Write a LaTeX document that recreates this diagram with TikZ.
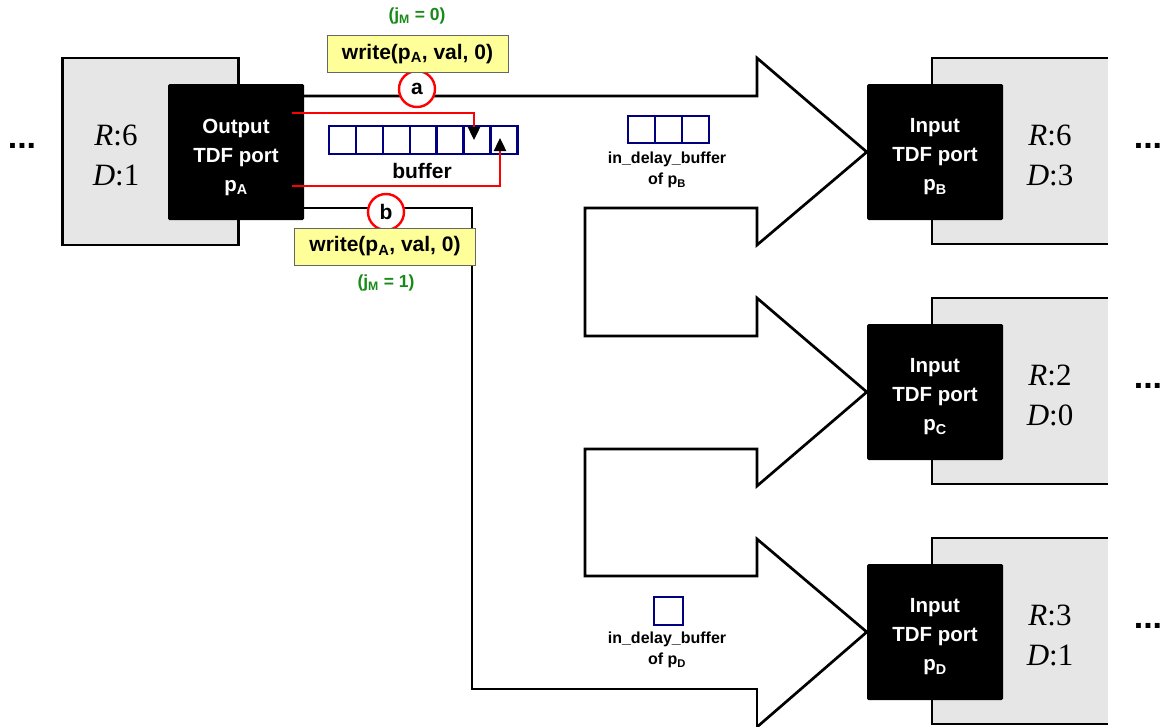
\documentclass[tikz,border=0pt]{standalone}
\usepackage{fontspec}
\setmainfont{Liberation Sans}
\newfontfamily\serifrd{Liberation Serif}
\usetikzlibrary{arrows.meta}
\definecolor{boxgray}{HTML}{E6E6E6}
\definecolor{bufblue}{HTML}{000080}
\definecolor{lblyellow}{HTML}{FFFF99}
\definecolor{grn}{HTML}{178A17}
\begin{document}
\begin{tikzpicture}[x=1pt,y=-1pt,
  port/.style={fill=black,rounded corners=1.5pt,minimum width=136,minimum height=136,
    text=white,align=center,inner sep=0pt,font=\fontsize{20.5}{29}\selectfont\bfseries},
  porttext/.style={text=white,align=center,inner sep=0pt,font=\fontsize{20.5}{29}\selectfont\bfseries},
  graybox/.style={fill=boxgray,draw=black,line width=2.3pt,minimum width=176,minimum height=187,inner sep=0pt},
  rdtext/.style={align=center,font=\serifrd\fontsize{31}{40}\selectfont},
  dots/.style={font=\fontsize{34}{36}\selectfont\bfseries},
  outline/.style={draw=black,line width=2.7pt,line join=miter},
  cell/.style={draw=bufblue,line width=2.4pt,minimum width=26.9,minimum height=28,inner sep=0pt},
  redline/.style={draw=red,line width=2.4pt,-{Triangle[length=13pt,width=12pt,color=black]}},
  marker/.style={circle,draw=red,fill=white,line width=2.4pt,minimum size=36,inner sep=0pt,font=\fontsize{21}{22}\selectfont\bfseries},
  callbox/.style={draw=black!60,line width=0.8pt,fill=lblyellow,minimum width=181,minimum height=37,inner sep=0pt,font=\fontsize{21}{22}\selectfont\bfseries},
  jlabel/.style={text=grn,font=\fontsize{17.5}{18}\selectfont\bfseries},
  smalllbl/.style={align=center,font=\fontsize{16}{21}\selectfont\bfseries},
  buflbl/.style={font=\fontsize{21}{22}\selectfont\bfseries}
]
\useasboundingbox (0,0) rectangle (1162,726);

% left module
\node[graybox] (gA) at (150.5,151.5) {};
\node[rdtext] (rdA) at (116,155) {\textit{R}:6\\\textit{D}:1};
\node[dots] (dotsA) at (22,146) {...};

% right modules (open on the right)
\foreach \n/\cy in {B/151,C/391,D/631}{
  \fill[boxgray] (932,\cy-93) rectangle (1108,\cy+93);
  \draw[line width=2.3pt] (1108,\cy-93) -- (932,\cy-93) -- (932,\cy+93) -- (1108,\cy+93);
}
\node[rdtext] (rdB) at (1050,155) {\textit{R}:6\\\textit{D}:3};
\node[rdtext] (rdC) at (1050,395) {\textit{R}:2\\\textit{D}:0};
\node[rdtext] (rdD) at (1050,635) {\textit{R}:3\\\textit{D}:1};
\node[dots] (dotsB) at (1148,146) {...};
\node[dots] (dotsC) at (1148,386) {...};
\node[dots] (dotsD) at (1148,626) {...};

% ports
\node[port] (pA) at (236,152) {};
\node[port] (pB) at (935,152) {};
\node[port] (pC) at (935,392) {};
\node[port] (pD) at (935,632) {};
\node[porttext] (tA) at ([yshift=-5pt]pA.center) {Output\\TDF port\\p\textsubscript{A}};
\node[porttext] (tB) at ([yshift=-5pt]pB.center) {Input\\TDF port\\p\textsubscript{B}};
\node[porttext] (tC) at ([yshift=-5pt]pC.center) {Input\\TDF port\\p\textsubscript{C}};
\node[porttext] (tD) at ([yshift=-5pt]pD.center) {Input\\TDF port\\p\textsubscript{D}};

% big outline of the signal fan-out
\draw[outline] (pA.east |- 0,96) -- (757,96) -- (757,58) -- (pB.west) -- (757,245) -- (757,208)
  -- (585,208) -- (585,336) -- (757,336) -- (757,298) -- (pC.west) -- (757,486) -- (757,449)
  -- (585,449) -- (585,576) -- (757,576) -- (757,539) -- (pD.west) -- (757,727);
\draw[outline] (757,740) -- (757,689) -- (472,689) -- (472,208) -- (pA.east |- 0,208);

% buffer
\foreach \i in {1,...,7}{
  \node[cell] (buf\i) at (329+26.9*\i-13.45,140) {};
}
\node[buflbl] (buflabel) at (422,171) {buffer};

% red write arrows
\coordinate (ra0) at (292,113);
\coordinate (ra1) at (474,140);
\coordinate (rb0) at (292,186);
\coordinate (rb1) at (500,138);
\draw[redline] (ra0) -| (ra1);
\draw[redline] (rb0) -| (rb1);

% markers a and b
\node[marker] (ma) at (417,89) {a};
\node[marker] (mb) at (386,212) {b};

% write calls
\node[callbox] (wa) at (417.5,54) {write(p\textsubscript{A}, val, 0)};
\node[callbox] (wb) at (385,246.5) {write(p\textsubscript{A}, val, 0)};
\node[jlabel] (ja) at (417,16) {(j\textsubscript{M} = 0)};
\node[jlabel] (jb) at (386,283) {(j\textsubscript{M} = 1)};

% delay buffers
\foreach \i in {1,2,3}{
  \node[cell,minimum width=27,minimum height=27] (dB\i) at (628+27*\i-13.5,129.5) {};
}
\node[smalllbl] (dBl) at (667,170) {in\_delay\_buffer\\of p\textsubscript{B}};
\node[cell,minimum width=29,minimum height=28] (dD1) at (668.5,611) {};
\node[smalllbl] (dDl) at (667,650) {in\_delay\_buffer\\of p\textsubscript{D}};
\end{tikzpicture}
\end{document}
